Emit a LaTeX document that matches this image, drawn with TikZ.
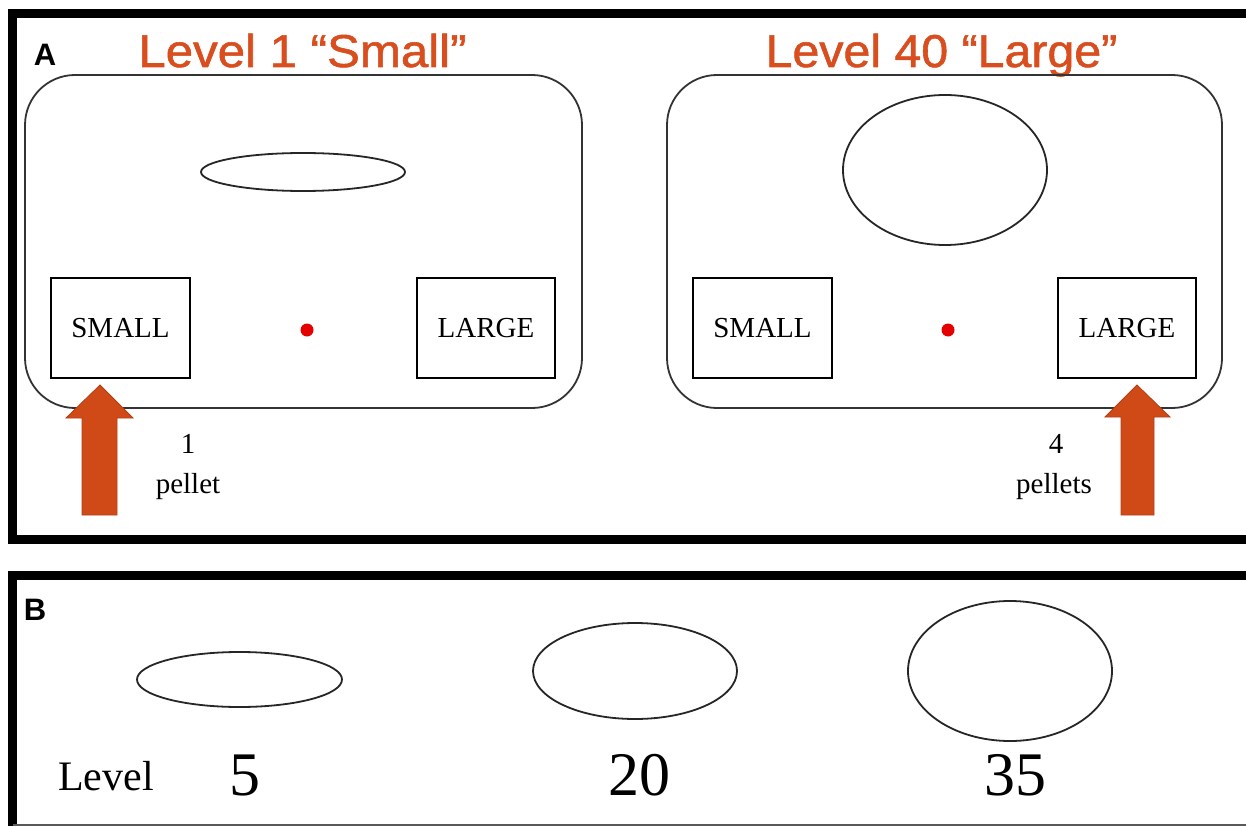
\documentclass[tikz,border=0pt]{standalone}
\usepackage{fontspec}
\setmainfont{Liberation Serif}
\newfontfamily\titlefont[FakeBold=1.2]{Liberation Sans}
\newfontfamily\labelfont{Liberation Sans}
\usetikzlibrary{shapes.geometric}
\definecolor{titlecol}{RGB}{216,78,30}
\definecolor{arrowcol}{RGB}{208,74,24}
\begin{document}
\begin{tikzpicture}[x=1pt,y=-1pt,
 frame/.style={line width=9pt},
 room/.style={draw=black!80, line width=1.8pt, rounded corners=50pt, minimum width=557pt, minimum height=333pt, inner sep=0pt},
 bin/.style={draw, line width=2.2pt, minimum width=138pt, minimum height=100pt, inner sep=0pt, font=\fontsize{29}{32}\selectfont},
 oval/.style={draw=black!85, line width=1.8pt, ellipse, inner sep=0pt},
 reddot/.style={circle, fill=red!90!black, inner sep=0pt, minimum size=13pt},
 title/.style={text=titlecol, anchor=base, inner sep=0pt, font=\titlefont\fontsize{46}{48}\selectfont},
 panel/.style={anchor=base, inner sep=0pt, font=\labelfont\bfseries\fontsize{31}{33}\selectfont},
 pel/.style={anchor=base, inner sep=0pt, font=\fontsize{29}{34}\selectfont},
 lvl/.style={anchor=base, inner sep=0pt, font=\fontsize{62}{66}\selectfont},
 pellet arrow/.style={fill=arrowcol, draw=arrowcol!85!black, line width=0.8pt}
]
\useasboundingbox (0,0) rectangle (1246,826);
\fill[white] (0,0) rectangle (1246,826);

% panel frames
\draw[frame] (1246,13.5) -- (12.5,13.5) -- (12.5,539.5) -- (1246,539.5);
\draw[frame] (1246,575) -- (12.5,575) -- (12.5,826);
\draw[black!65, line width=2pt] (12.5,825) -- (1246,825);

% panel A
\node[panel] (labA) at (45,66) {A};
\node[title] (t1) at (302.5,67) {\scalebox{1.07}[1]{Level 1 “Small”}};
\node[title] (t2) at (941.5,67) {\scalebox{1.05}[1]{Level 40 “Large”}};

\node[room] (roomL) at (303.5,241.5) {};
\node[room, minimum width=555pt] (roomR) at (944.5,241.5) {};

\node[oval, minimum width=204pt, minimum height=38pt] (ovL) at (303,172) {};
\node[oval, minimum width=204pt, minimum height=150pt] (ovR) at (945,170) {};

\node[bin, minimum width=139pt] (smallL) at (120.5,328) {SMALL};
\node[bin] (largeL) at (486,328) {LARGE};
\node[bin, minimum width=139pt] (smallR) at (762.5,328) {SMALL};
\node[bin] (largeR) at (1127,328) {LARGE};

\node[reddot] (dotL) at (307,330) {};
\node[reddot] (dotR) at (948,330) {};

\fill[pellet arrow] (82,515) -- (82,418) -- (66,418) -- (100,385) -- (133,418) -- (117,418) -- (117,515) -- cycle;
\fill[pellet arrow] (1121,515) -- (1121,417) -- (1105,417) -- (1137,385) -- (1170,417) -- (1154,417) -- (1154,515) -- cycle;

\node[pel] (n1) at (188,453) {1};
\node[pel] (p1) at (188,493) {pellet};
\node[pel] (n4) at (1056,453) {4};
\node[pel] (p4) at (1054,493) {pellets};

% panel B
\node[panel] (labB) at (35,620) {B};
\node[oval, minimum width=205pt, minimum height=55pt] (ov5) at (239.5,679.5) {};
\node[oval, minimum width=204pt, minimum height=96pt] (ov20) at (635,671) {};
\node[oval, minimum width=204pt, minimum height=140pt] (ov35) at (1010,671) {};

\node[anchor=base, inner sep=0pt, font=\fontsize{42}{46}\selectfont] (lev) at (106,790) {Level};
\node[lvl] (l5) at (245,795) {5};
\node[lvl] (l20) at (639,795) {20};
\node[lvl] (l35) at (1015,795) {35};
\end{tikzpicture}
\end{document}
